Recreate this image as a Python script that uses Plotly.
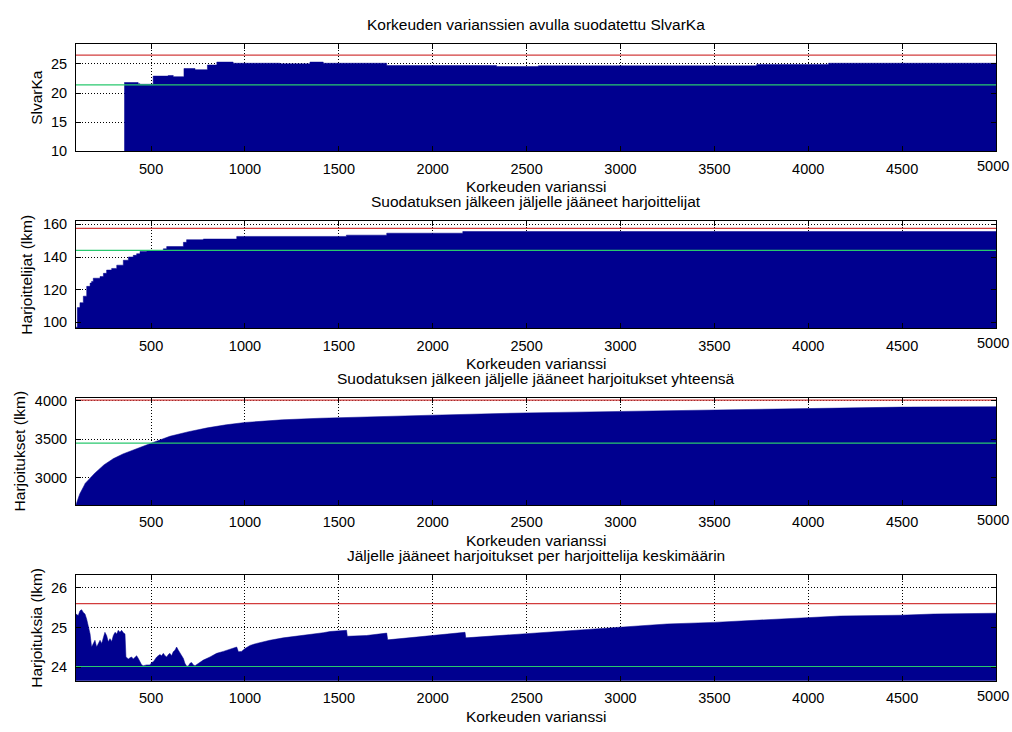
import plotly.graph_objects as go

# ---------------- data ----------------
x_slvarka = [357, 431, 440, 511, 591, 618, 675, 734, 800, 850, 937, 1186, 1346, 1417,
             1755, 2340, 2562, 3725, 4108, 5000]
y_slvarka = [21.8, 21.6, 21.5, 22.9, 23.0, 22.8, 24.2, 24.0, 24.8, 25.3, 25.1, 25.0, 25.3, 25.1,
             24.7, 24.55, 24.66, 24.9, 25.1, 25.1]

x_harjoittelijat = [100, 107, 121, 139, 157, 175, 183, 192, 210, 228, 246, 263, 290, 317, 352,
                    379, 405, 423, 441, 476, 565, 583, 672, 689, 778, 947, 956, 1540, 1755,
                    2160, 5000]
y_harjoittelijat = [97, 109, 112, 116, 122, 124, 125, 127, 127, 128, 130, 132, 133, 135, 138,
                    140, 141, 142, 143.4, 144, 145, 146.4, 149, 150.6, 151, 151, 152.6, 153.4,
                    154.6, 155.6, 155.6]

x_harjoitukset = [100, 120, 150, 200, 250, 300, 350, 400, 450, 500, 600, 700, 800, 900, 1000,
                  1200, 1400, 1600, 1800, 2000, 2500, 3000, 3500, 4000, 4500, 5000]
y_harjoitukset = [2650, 2790, 2930, 3060, 3170, 3250, 3310, 3360, 3400, 3450, 3540, 3600, 3650,
                  3690, 3720, 3755, 3775, 3790, 3805, 3815, 3845, 3865, 3885, 3905, 3920, 3925]

x_keskiarvo = [100, 112, 121, 130, 139, 148, 157, 166, 175, 183, 192, 201, 210, 219, 228, 237,
               246, 254, 263, 272, 281, 290, 299, 308, 317, 325, 334, 343, 352, 361, 366, 379,
               388, 396, 405, 414, 423, 432, 441, 450, 459, 476, 494, 503, 512, 521, 530, 538,
               547, 556, 565, 574, 583, 592, 600, 609, 618, 627, 636, 645, 654, 663, 672, 680,
               689, 698, 707, 716, 725, 734, 743, 760, 778, 814, 849, 885, 920, 947, 956, 965,
               982, 1000, 1027, 1062, 1133, 1204, 1311, 1370, 1417, 1453, 1541, 1545, 1648,
               1755, 1760, 1914, 2110, 2172, 2176, 2359, 2500, 2716, 2894, 3000, 3248, 3497,
               3745, 3994, 4171, 4491, 4668, 5000]
y_keskiarvo = [25.34, 25.30, 25.42, 25.45, 25.38, 25.34, 25.21, 25.05, 24.84, 24.51, 24.60,
               24.68, 24.51, 24.60, 24.68, 24.60, 24.76, 24.88, 24.80, 24.64, 24.72, 24.65,
               24.80, 24.88, 24.84, 24.93, 24.88, 24.93, 24.87, 24.84, 24.26, 24.21, 24.24,
               24.26, 24.21, 24.26, 24.29, 24.22, 24.14, 24.06, 24.04, 24.06, 24.06, 24.12,
               24.14, 24.21, 24.26, 24.29, 24.32, 24.29, 24.35, 24.29, 24.26, 24.32, 24.35,
               24.29, 24.39, 24.43, 24.51, 24.43, 24.35, 24.29, 24.22, 24.10, 24.03, 24.03,
               24.10, 24.12, 24.06, 24.04, 24.07, 24.12, 24.18, 24.26, 24.35, 24.40, 24.45,
               24.49, 24.51, 24.39, 24.40, 24.47, 24.55, 24.60, 24.68, 24.74, 24.80, 24.84,
               24.87, 24.90, 24.93, 24.78, 24.80, 24.86, 24.69, 24.76, 24.86, 24.88, 24.74,
               24.80, 24.86, 24.93, 24.98, 25.02, 25.09, 25.13, 25.19, 25.26, 25.29, 25.31,
               25.34, 25.36]

red_levels = [26.5, 157.5, 4010, 25.6]
green_levels = [21.4, 144.0, 3450, 24.02]

panel_titles = ["Korkeuden varianssien avulla suodatettu SlvarKa",
                "Suodatuksen jälkeen jäljelle jääneet harjoittelijat",
                "Suodatuksen jälkeen jäljelle jääneet harjoitukset yhteensä",
                "Jäljelle jääneet harjoitukset per harjoittelija keskimäärin"]
y_titles = ["SlvarKa", "Harjoittelijat (lkm)", "Harjoitukset (lkm)", "Harjoituksia (lkm)"]
x_title = "Korkeuden varianssi"
x_ticks = [500, 1000, 1500, 2000, 2500, 3000, 3500, 4000, 4500, 5000]
x_ticktext = ["500", "1000", "1500", "2000", "2500", "3000", "3500", "4000", "4500", ""]
last_tick_label = "5000"   # drawn separately so it does not spill past the page edge
y_ticks = [[10, 15, 20, 25], [100, 120, 140, 160], [3000, 3500, 4000], [24, 25, 26]]
y_ranges = [[10, 28.35], [96.4, 162], [2646, 4040], [23.66, 26.33]]
x_range = [100, 5000]

# ---------------- layout geometry (pixels) ----------------
W, H = 1012, 732
left_px, right_px = 76, 996
panels_px = [(40, 149), (220, 329), (400, 509), (580, 688)]
ylab_x_px = [37, 27, 19, 37]

NAVY = "#00008F"
RED = "rgb(210,60,60)"
GREEN = "rgb(40,200,110)"
FONT = "Liberation Sans, Arial, sans-serif"
TXT = 15.5
TICK = 14.5

series = [(x_slvarka, y_slvarka, "hv"), (x_harjoittelijat, y_harjoittelijat, "hv"),
          (x_harjoitukset, y_harjoitukset, "linear"), (x_keskiarvo, y_keskiarvo, "linear")]

fig = go.Figure()
layout = dict(width=W, height=H, margin=dict(l=0, r=0, t=0, b=0),
              paper_bgcolor="white", plot_bgcolor="white", showlegend=False,
              font=dict(family=FONT, size=TXT, color="black"))
annotations = []

for i, ((xs, ys, shape), (top, bot)) in enumerate(zip(series, panels_px)):
    n = "" if i == 0 else str(i + 1)
    xa, ya = "x" + n, "y" + n
    fig.add_trace(go.Scatter(x=xs, y=ys, mode="lines", line=dict(color=NAVY, width=0.5, shape=shape),
                             fill="tozeroy", fillcolor=NAVY, xaxis=xa, yaxis=ya, hoverinfo="skip"))
    fig.add_trace(go.Scatter(x=x_range, y=[red_levels[i]] * 2, mode="lines",
                             line=dict(color=RED, width=1.2), xaxis=xa, yaxis=ya))
    fig.add_trace(go.Scatter(x=x_range, y=[green_levels[i]] * 2, mode="lines",
                             line=dict(color=GREEN, width=1.2), xaxis=xa, yaxis=ya))
    dom = [1 - bot / H, 1 - top / H]
    common = dict(showline=True, linecolor="black", linewidth=1, mirror="allticks",
                  ticks="inside", ticklen=5, tickcolor="black", showgrid=True,
                  gridcolor="black", griddash="1px,2px", gridwidth=1, zeroline=False,
                  tickfont=dict(family=FONT, size=TICK, color="black"), layer="above traces")
    layout["xaxis" + n] = dict(domain=[left_px / W, right_px / W], range=x_range,
                               tickvals=x_ticks, ticktext=x_ticktext, ticklabelstandoff=4,
                               anchor=ya, **common)
    layout["yaxis" + n] = dict(domain=dom, range=y_ranges[i], tickvals=y_ticks[i],
                               ticklabelstandoff=5, anchor=xa, **common)
    cx = (left_px + right_px) / 2 / W
    annotations.append(dict(text=panel_titles[i], x=cx, y=1 - (top - 20) / H, xref="paper",
                            yref="paper", showarrow=False, xanchor="center", yanchor="middle",
                            font=dict(family=FONT, size=TXT)))
    annotations.append(dict(text=x_title, x=cx, y=1 - (bot + 36) / H, xref="paper",
                            yref="paper", showarrow=False, xanchor="center", yanchor="middle",
                            font=dict(family=FONT, size=TXT)))
    annotations.append(dict(text=y_titles[i], x=ylab_x_px[i] / W, y=1 - (top + bot) / 2 / H,
                            xref="paper", yref="paper", showarrow=False, textangle=-90,
                            xanchor="center", yanchor="middle", font=dict(family=FONT, size=TXT)))
    annotations.append(dict(text=last_tick_label, x=1010 / W, y=1 - (bot + 15) / H,
                            xref="paper", yref="paper", showarrow=False, borderpad=0,
                            xanchor="right", yanchor="middle",
                            font=dict(family=FONT, size=TICK, color="black")))

layout["annotations"] = annotations
fig.update_layout(**layout)
fig.write_html("out.html")
